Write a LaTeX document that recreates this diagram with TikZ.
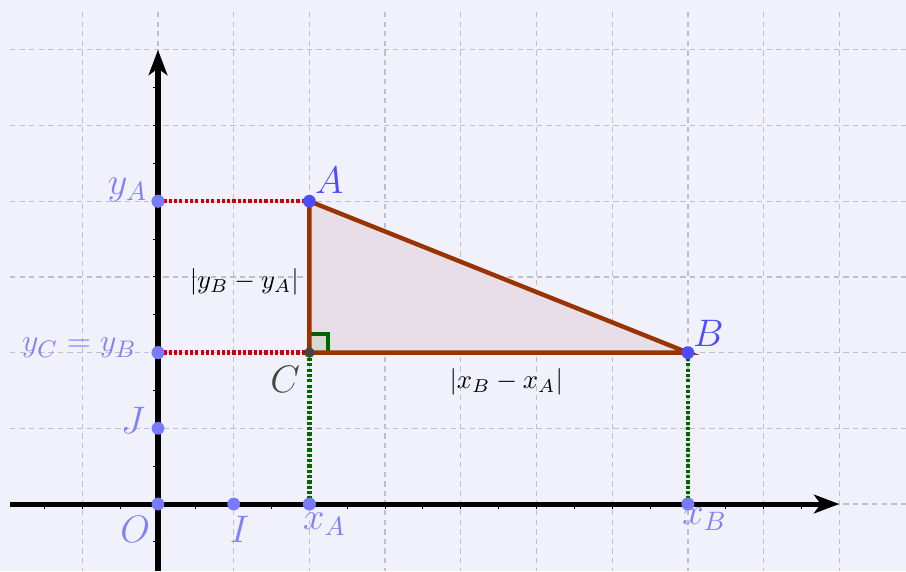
\documentclass[tikz,border=0pt]{standalone}
\usetikzlibrary{arrows.meta}
\definecolor{bgc}{RGB}{241,241,252}
\definecolor{gridc}{RGB}{192,192,196}
\definecolor{triedge}{RGB}{153,51,0}
\definecolor{trifill}{RGB}{232,222,232}
\definecolor{ptdark}{RGB}{77,77,255}
\definecolor{ptlight}{RGB}{122,122,255}
\definecolor{lbllight}{RGB}{128,128,250}
\definecolor{reddot}{RGB}{204,0,0}
\definecolor{greendot}{RGB}{0,100,0}
\definecolor{cgray}{RGB}{68,68,68}
\definecolor{angfill}{RGB}{214,216,210}
\tikzset{
  gridline/.style={gridc, line width=0.45pt, dash pattern=on 2pt off 1.6pt},
  axisline/.style={black, line width=1.9pt, -{Stealth[length=9.5pt,width=7pt,inset=2.5pt]}},
  tickline/.style={black, line width=0.4pt},
  edge/.style={triedge, line width=1.65pt},
  reddots/.style={reddot, line width=1.7pt, dash pattern=on 1.2pt off 0.8pt},
  greendots/.style={greendot, line width=1.7pt, dash pattern=on 1.2pt off 0.8pt},
  ptbig/.style={circle, fill=ptdark, inner sep=0pt, minimum size=4.8pt},
  ptsmall/.style={circle, fill=ptlight, inner sep=0pt, minimum size=4.8pt},
  ptc/.style={circle, fill=cgray, inner sep=0pt, minimum size=3.9pt},
  biglbl/.style={text=ptdark, font=\fontsize{15}{17}\selectfont, inner sep=0pt},
  lightlbl/.style={text=lbllight, font=\fontsize{14}{16}\selectfont, inner sep=0pt},
  blacklbl/.style={text=black, font=\fontsize{10.4}{12}\selectfont, inner sep=0pt},
}
\begin{document}
\begin{tikzpicture}[x=1cm,y=1cm]
\fill[bgc] (-2.087,-0.885) rectangle (9.881,6.658);
\useasboundingbox (-2.087,-0.885) rectangle (9.881,6.658);
% grid
\foreach \i in {-1,0,...,9} \draw[gridline] (\i,6.5) -- (\i,-0.885);
\foreach \j in {0,...,6} \draw[gridline] (-1.955,\j) -- (9.881,\j);
% triangle fill
\coordinate (A) at (2,4);
\coordinate (B) at (7,2);
\coordinate (C) at (2,2);
\coordinate (Cq) at (2.24,2.24);
\fill[trifill] (A) -- (B) -- (C) -- cycle;
% ticks
\foreach \i in {-1.5,-1,...,8.5} \draw[tickline] (\i,0) -- (\i,-0.06);
\foreach \j in {-0.5,0.5,1,...,5.5} \draw[tickline] (0,\j) -- (-0.06,\j);
% axes
\coordinate (xs) at (-1.955,0);
\coordinate (xe) at (9,0);
\coordinate (ys) at (0,-0.885);
\coordinate (ye) at (0,6);
\draw[axisline] (xs) -- (xe);
\draw[axisline] (ys) -- (ye);
% projection points
\node[ptsmall] (O) at (0,0) {};
\node[ptsmall] (I) at (1,0) {};
\node[ptsmall] (J) at (0,1) {};
\node[ptsmall] (yA) at (0,4) {};
\node[ptsmall] (yB) at (0,2) {};
\node[ptsmall] (xA) at (2,0) {};
\node[ptsmall] (xB) at (7,0) {};
% dotted projections
\draw[reddots] (yA.center) -- (A);
\draw[reddots] (yB.center) -- (C);
\draw[greendots] (C) -- (xA.center);
\draw[greendots] (B) -- (xB.center);
% right angle
\fill[angfill] (C) rectangle (Cq);
\draw[greendot, line width=1.5pt] (C |- Cq) -- (Cq) -- (Cq |- C);
% triangle edges
\draw[edge] (A) -- (B) -- (C) -- cycle;
% redraw projection points on top
\node[ptsmall] at (0,4) {};
\node[ptsmall] at (0,2) {};
\node[ptsmall] at (2,0) {};
\node[ptsmall] at (7,0) {};
% main points
\node[ptbig] (pA) at (A) {};
\node[ptbig] (pB) at (B) {};
\node[ptc] (pC) at (C) {};
% labels
\node[biglbl] (lA) at (2.26,4.27) {$A$};
\node[biglbl] (lB) at (7.27,2.26) {$B$};
\node[text=cgray, font=\fontsize{15}{17}\selectfont, inner sep=0pt] (lC) at (1.68,1.65) {$C$};
\node[lightlbl] (lO) at (-0.3,-0.33) {$O$};
\node[lightlbl] (lI) at (1.08,-0.33) {$I$};
\node[lightlbl] (lJ) at (-0.33,1.1) {$J$};
\node[lightlbl] (lxA) at (2.2,-0.27) {$x_A$};
\node[lightlbl] (lxB) at (7.22,-0.2) {$x_B$};
\node[lightlbl] (lyA) at (-0.4,4.15) {$y_A$};
\node[lightlbl, font=\fontsize{12.6}{15}\selectfont] (lyC) at (-1.04,2.06) {$y_C = y_B$};
\node[blacklbl] (dy) at (1.14,2.93) {$|y_B - y_A|$};
\node[blacklbl] (dx) at (4.6,1.62) {$|x_B - x_A|$};
\end{tikzpicture}
\end{document}
